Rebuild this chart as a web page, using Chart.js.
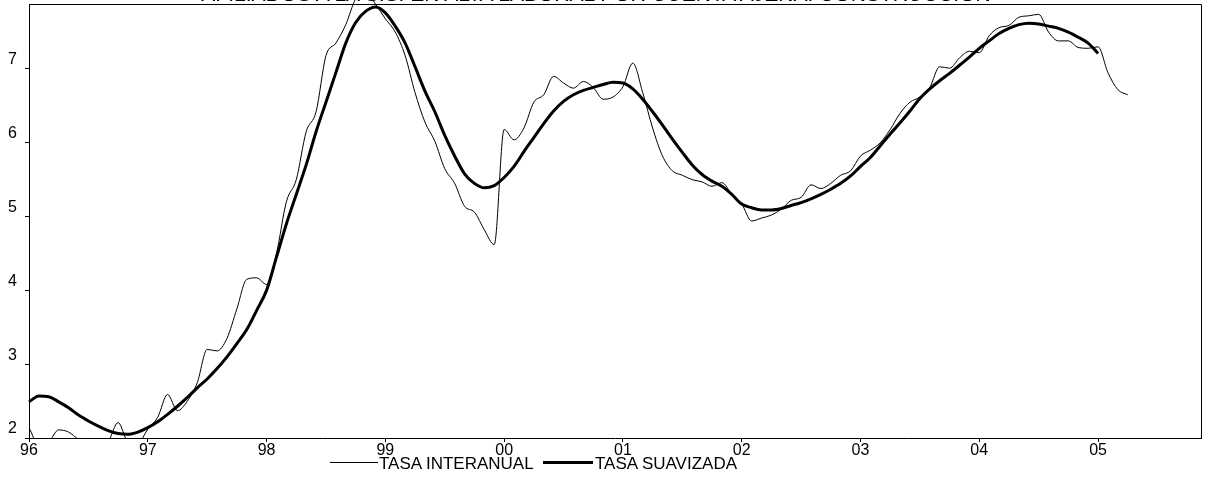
<!DOCTYPE html>
<html><head><meta charset="utf-8">
<script src="https://cdn.jsdelivr.net/npm/chart.js@4.4.1/dist/chart.umd.min.js"></script>
<style>
html,body{margin:0;padding:0;background:#fff;overflow:hidden}
#wrap{position:relative;width:1208px;height:477px;overflow:hidden;background:#fff}
canvas{position:absolute;left:0;top:0}
.t{position:absolute;font-family:"Liberation Sans",Arial,sans-serif;color:#000;white-space:nowrap;line-height:17px;font-size:17px}
.ln{position:absolute;background:#000}
</style></head><body>
<div id="wrap"><canvas id="c" width="1208" height="477"></canvas>
<div id="title" class="t"></div><div id="legend"></div></div>
<script>
const chartTitle = "AFILIADOS A LA S.S. EN ALTA LABORAL POR CUENTA AJENA: CONSTRUCCIÓN";
const seriesNames = ["TASA INTERANUAL", "TASA SUAVIZADA"];
// monthly, from 1996M1
const interanual = [
 2.14,1.90,1.95,2.11,2.08,1.98,1.90,1.88,1.95,2.21,1.95,1.93,
 2.12,2.28,2.59,2.37,2.50,2.75,3.20,3.18,3.35,3.75,4.15,4.17,
 4.08,4.50,5.20,5.50,6.15,6.42,7.18,7.35,7.60,7.95,8.05,7.88,
 7.68,7.50,7.18,6.68,6.28,6.02,5.65,5.45,5.14,5.06,4.82,4.62,
 6.18,6.04,6.20,6.55,6.65,6.90,6.81,6.74,6.83,6.75,6.59,6.62,
 6.76,7.08,6.68,6.20,5.82,5.62,5.56,5.50,5.47,5.41,5.46,5.30,
 5.17,4.94,4.98,5.02,5.10,5.22,5.26,5.43,5.38,5.45,5.56,5.62,
 5.82,5.90,6.00,6.18,6.40,6.55,6.62,6.75,7.03,7.01,7.15,7.24,
 7.22,7.45,7.56,7.59,7.70,7.72,7.74,7.50,7.38,7.38,7.29,7.28,
 7.30,6.95,6.72,6.65
];
const suavizada = [
 2.49,2.57,2.56,2.49,2.41,2.31,2.23,2.16,2.10,2.06,2.05,2.08,
 2.14,2.22,2.32,2.43,2.55,2.68,2.80,2.94,3.10,3.28,3.47,3.73,
 4.00,4.45,4.90,5.30,5.70,6.15,6.55,6.95,7.35,7.63,7.78,7.84,
 7.76,7.58,7.35,7.03,6.70,6.42,6.10,5.82,5.58,5.45,5.39,5.42,
 5.53,5.68,5.88,6.07,6.26,6.43,6.56,6.65,6.71,6.75,6.79,6.82,
 6.81,6.73,6.59,6.42,6.24,6.05,5.87,5.70,5.57,5.48,5.41,5.30,
 5.17,5.12,5.09,5.09,5.11,5.15,5.19,5.24,5.30,5.37,5.45,5.55,
 5.68,5.80,5.96,6.12,6.27,6.43,6.60,6.73,6.84,6.94,7.05,7.16,
 7.28,7.38,7.48,7.55,7.60,7.62,7.61,7.58,7.55,7.50,7.43,7.35,
 7.21
];
const yearLabels = ["96","97","98","99","00","01","02","03","04","05"];
const yTicks = [2,3,4,5,6,7];

const FONT = "'Liberation Sans',Arial,sans-serif";
const toPts = arr => arr.map((v,i)=>({x:i,y:v}));

const frame = {id:'frame', afterDraw(ch){const a=ch.chartArea,c=ch.ctx;c.save();c.strokeStyle='#000';c.lineWidth=1;
  c.beginPath();c.moveTo(a.left,a.top+0.5);c.lineTo(a.right+0.5,a.top+0.5);c.lineTo(a.right+0.5,a.bottom);c.stroke();c.restore();}};

new Chart(document.getElementById('c'), {
  type:'line',
  data:{datasets:[
    {label:seriesNames[0],data:toPts(interanual),borderColor:'#000',borderWidth:1,pointRadius:0,cubicInterpolationMode:'monotone',clip:{left:0,top:5,right:0,bottom:0}},
    {label:seriesNames[1],data:toPts(suavizada),borderColor:'#000',borderWidth:3,pointRadius:0,cubicInterpolationMode:'monotone',clip:{left:2,top:5,right:0,bottom:0}}
  ]},
  options:{
    responsive:false,animation:false,
    layout:{padding:{left:0,right:7,top:4,bottom:0}},
    plugins:{legend:{display:false},tooltip:{enabled:false},title:{display:false}},
    scales:{
      x:{type:'linear',min:0,max:118.4,
        afterBuildTicks:s=>{s.ticks=yearLabels.map((l,i)=>({value:i*12}));},
        afterFit:s=>{s.height=39;s.paddingLeft=0;s.paddingRight=0;},
        ticks:{callback:(v)=>yearLabels[Math.round(v/12)],color:'#000',font:{family:FONT,size:16,lineHeight:1},padding:1,maxRotation:0,autoSkip:false},
        grid:{drawOnChartArea:false,drawTicks:true,tickLength:4,color:'#000'},
        border:{display:true,color:'#000',width:1}},
      y:{type:'linear',min:2,max:7.88,
        afterBuildTicks:s=>{s.ticks=yTicks.map(v=>({value:v}));},
        afterFit:s=>{s.width=29;s.paddingTop=0;s.paddingBottom=0;},
        ticks:{color:'#000',font:{family:FONT,size:16,lineHeight:1},padding:8,labelOffset:-9},
        grid:{drawOnChartArea:false,drawTicks:true,tickLength:4,color:'#000'},
        border:{display:true,color:'#000',width:1}}
    }
  },
  plugins:[frame]
});

const t=document.getElementById('title');
t.textContent=chartTitle; t.style.fontSize='21px'; t.style.lineHeight='21px'; t.style.top='-17px';
const w=t.getBoundingClientRect().width; t.style.left=(596-w/2)+'px';

const lg=document.getElementById('legend');
const items=[{x1:330,x2:378,w:1,tx:379},{x1:543,x2:593,w:3,tx:595}];
items.forEach((it,i)=>{
  const l=document.createElement('div');l.className='ln';
  l.style.left=it.x1+'px';l.style.width=(it.x2-it.x1)+'px';l.style.height=it.w+'px';l.style.top=(462-it.w/2)+'px';
  lg.appendChild(l);
  const s=document.createElement('div');s.className='t';s.textContent=seriesNames[i];
  s.style.left=it.tx+'px';s.style.top='455px';lg.appendChild(s);
});
</script>
</body></html>
